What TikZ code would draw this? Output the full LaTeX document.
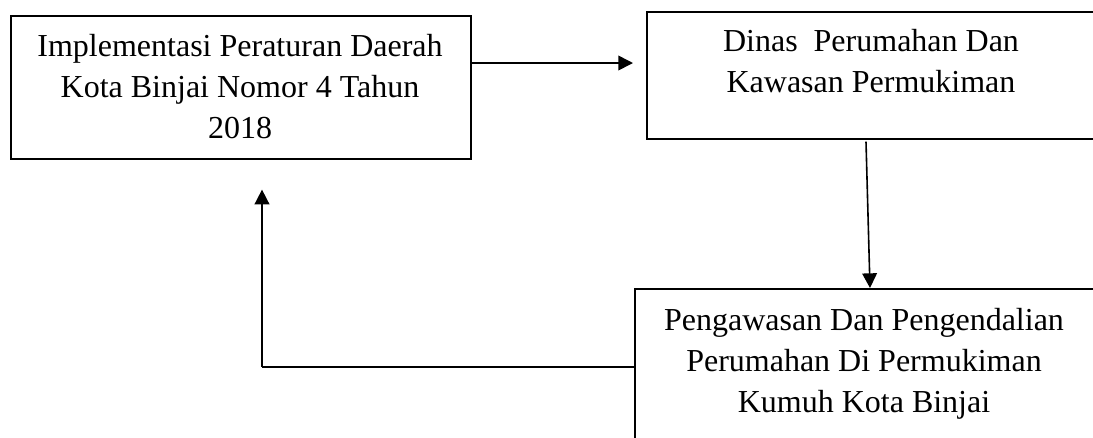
\documentclass[tikz,border=0pt]{standalone}
\usepackage{fontspec}
\setmainfont{Liberation Serif}
\usetikzlibrary{arrows.meta,calc}
\tikzset{
  box/.style={draw, line width=1.2pt, inner sep=0pt, anchor=north west},
  lbl/.style={align=center, inner sep=0pt, font=\fontsize{24pt}{30.75pt}\selectfont},
  conn/.style={line width=1.2pt},
  arr/.style={conn, -{Triangle[length=11pt,width=11pt]}}
}
\begin{document}
\begin{tikzpicture}[x=0.75pt,y=-0.75pt]
\useasboundingbox (0,0) rectangle (1093,437);
\clip (0,0) rectangle (1093,437);
% boxes
\node[box, minimum width=345pt, minimum height=107.25pt] (b1) at (10,15) {};
\node[box, minimum width=345pt, minimum height=95.25pt] (b2) at (646,11) {};
\node[box, minimum width=352.5pt, minimum height=127.5pt] (b3) at (634,288) {};
% texts
\node[lbl] (t1) at (240,87) {Implementasi Peraturan Daerah\\Kota Binjai Nomor 4 Tahun\\2018};
\node[lbl] (t2) at (871,61) {Dinas\ \ Perumahan Dan\\Kawasan Permukiman};
\node[lbl] (t3) at (864,364) {Pengawasan Dan Pengendalian\\Perumahan Di Permukiman\\Kumuh Kota Binjai};
% connector anchors
\coordinate (a1s) at ($(b1.north east)+(0,48)$);
\coordinate (a1e) at ($(b2.north west)+(-13,52)$);
\coordinate (a2s) at ($(b2.south west)+(220,2)$);
\coordinate (a2e) at ($(b3.north west)+(236,0)$);
\coordinate (a3s) at ($(b3.north west)+(0,79)$);
\coordinate (a3c) at (262,367);
\coordinate (a3e) at ($(b1.south west)+(252,30)$);
% connectors
\draw[arr] (a1s) -- (a1e);
\draw[arr] (a2s) -- (a2e);
\draw[conn] (a3s) -- (a3c);
\draw[arr] (a3c) -- (a3e);
\end{tikzpicture}
\end{document}
